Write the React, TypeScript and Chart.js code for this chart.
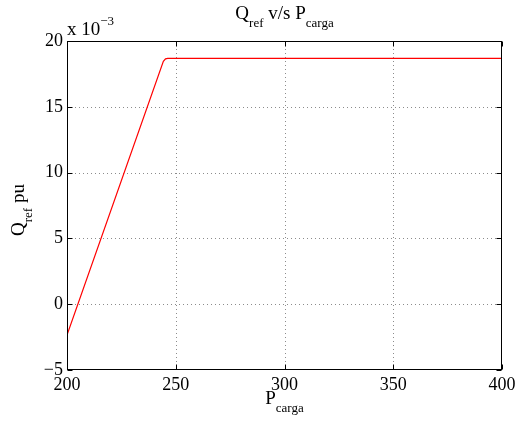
import React, { useEffect, useRef } from 'react';
import { Chart, registerables } from 'chart.js';
Chart.register(...registerables);

const pCarga = [200, 244.3, 245.3, 246.3, 400];
const qRef = [-2.35, 18.45, 18.64, 18.68, 18.68];
const xTicks = [200, 250, 300, 350, 400];
const yTicks = [-5, 0, 5, 10, 15, 20];
const FONT = "'Liberation Serif', 'Times New Roman', serif";

type Part = { t: string; size: number; dy: number };
function drawParts(ctx: CanvasRenderingContext2D, parts: Part[], x: number, y: number, align: 'center' | 'left') {
  let total = 0;
  parts.forEach(p => { ctx.font = `${p.size}px ${FONT}`; total += ctx.measureText(p.t).width; });
  let cx = align === 'center' ? x - total / 2 : x;
  ctx.textAlign = 'left';
  ctx.textBaseline = 'alphabetic';
  parts.forEach(p => {
    ctx.font = `${p.size}px ${FONT}`;
    ctx.fillText(p.t, cx, y + p.dy);
    cx += ctx.measureText(p.t).width;
  });
}

const decor = {
  id: 'decor',
  beforeDatasetsDraw(chart: any) {
    const { ctx, chartArea: a, scales } = chart;
    const xs = scales.x, ys = scales.y;
    ctx.save();
    ctx.strokeStyle = 'rgba(0,0,0,0.45)';
    ctx.lineWidth = 1;
    ctx.setLineDash([1, 3]);
    xTicks.slice(1, -1).forEach(v => {
      const px = Math.round(xs.getPixelForValue(v)) + 0.5;
      ctx.beginPath(); ctx.moveTo(px, a.top); ctx.lineTo(px, a.bottom); ctx.stroke();
    });
    yTicks.slice(1, -1).forEach(v => {
      const py = Math.round(ys.getPixelForValue(v)) + 0.5;
      ctx.beginPath(); ctx.moveTo(a.left, py); ctx.lineTo(a.right, py); ctx.stroke();
    });
    ctx.restore();
  },
  afterDraw(chart: any) {
    const { ctx, chartArea: a, scales } = chart;
    const xs = scales.x, ys = scales.y;
    ctx.save();
    ctx.strokeStyle = '#000';
    ctx.lineWidth = 1;
    ctx.setLineDash([]);
    const L = Math.round(a.left) + 0.5, R = Math.round(a.right) - 0.5;
    const T = Math.round(a.top) + 0.5, B = Math.round(a.bottom) - 0.5;
    ctx.strokeRect(L, T, R - L, B - T);
    const tl = 5;
    xTicks.forEach(v => {
      const px = Math.round(xs.getPixelForValue(v)) + 0.5;
      ctx.beginPath(); ctx.moveTo(px, B); ctx.lineTo(px, B - tl); ctx.moveTo(px, T); ctx.lineTo(px, T + tl); ctx.stroke();
    });
    yTicks.forEach(v => {
      const py = Math.round(ys.getPixelForValue(v)) + 0.5;
      ctx.beginPath(); ctx.moveTo(L, py); ctx.lineTo(L + tl, py); ctx.moveTo(R, py); ctx.lineTo(R - tl, py); ctx.stroke();
    });
    ctx.fillStyle = '#000';
    const cx = (a.left + a.right) / 2;
    // title
    drawParts(ctx, [
      { t: 'Q', size: 19, dy: 0 },
      { t: 'ref', size: 13, dy: 8 },
      { t: ' v/s P', size: 19, dy: 0 },
      { t: 'carga', size: 13, dy: 8 },
    ], cx, 19, 'center');
    // exponent
    drawParts(ctx, [
      { t: 'x 10', size: 19, dy: 0 },
      { t: '\u22123', size: 13, dy: -10 },
    ], a.left, 35, 'left');
    // x label
    drawParts(ctx, [
      { t: 'P', size: 19, dy: 0 },
      { t: 'carga', size: 13, dy: 8 },
    ], cx, 404, 'center');
    // y label
    ctx.translate(24, 210);
    ctx.rotate(-Math.PI / 2);
    drawParts(ctx, [
      { t: 'Q', size: 19, dy: 0 },
      { t: 'ref', size: 13, dy: 8 },
      { t: ' pu', size: 19, dy: 0 },
    ], 0, 0, 'center');
    ctx.restore();
  },
};

export default function App() {
  const ref = useRef<HTMLCanvasElement>(null);
  useEffect(() => {
    if (!ref.current) return;
    const chart = new Chart(ref.current, {
      type: 'scatter',
      data: {
        datasets: [{
          data: pCarga.map((x, i) => ({ x, y: qRef[i] })),
          showLine: true,
          borderColor: '#ff0000',
          borderWidth: 1.2,
          pointRadius: 0,
          tension: 0,
        }],
      },
      options: {
        responsive: false,
        animation: false,
        layout: { padding: { top: 41, right: 23, left: 0, bottom: 0 } },
        plugins: { legend: { display: false }, tooltip: { enabled: false }, title: { display: false } },
        scales: {
          x: {
            type: 'linear', min: 200, max: 400,
            afterBuildTicks: (s: any) => { s.ticks = xTicks.map(v => ({ value: v })); },
            afterFit: (s: any) => { s.height = 55; },
            grid: { display: false, drawTicks: false },
            border: { display: false },
            ticks: { color: '#000', padding: 4, maxRotation: 0, font: { family: FONT, size: 18 } },
          },
          y: {
            type: 'linear', min: -5, max: 20,
            afterBuildTicks: (s: any) => { s.ticks = yTicks.map(v => ({ value: v })); },
            afterFit: (s: any) => { s.width = 67; },
            grid: { display: false, drawTicks: false },
            border: { display: false },
            ticks: {
              color: '#000', padding: 4, font: { family: FONT, size: 18 },
              callback: (v: any) => String(v).replace('-', '\u2212'),
            },
          },
        },
      },
      plugins: [decor],
    });
    return () => chart.destroy();
  }, []);
  return (
    <div style={{ position: 'absolute', left: 0, top: 0, width: 525, height: 425, background: '#fff' }}>
      <canvas ref={ref} width={525} height={425} />
    </div>
  );
}
